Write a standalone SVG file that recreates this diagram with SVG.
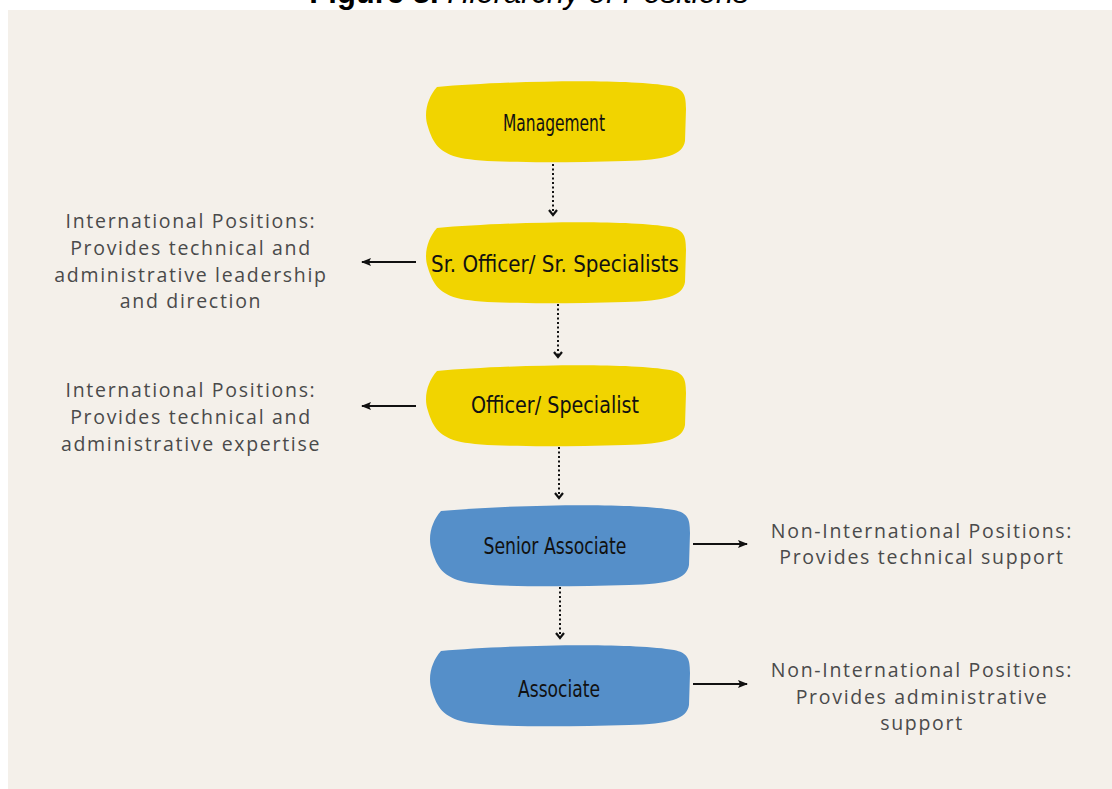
<svg xmlns="http://www.w3.org/2000/svg" width="1112" height="789" viewBox="0 0 1112 789">
<defs>
<style>
.title{font-family:"Liberation Sans",Arial,sans-serif;font-size:31px;fill:#000}
.desc{font-family:"Open Sans","Liberation Sans",sans-serif;font-size:19.5px;fill:#4a4a4a;text-anchor:middle;letter-spacing:1.7px}
.lbl{font-family:"DejaVu Sans Condensed","Liberation Sans Narrow",sans-serif;font-size:23px;fill:#111;text-anchor:middle}
.yel{fill:#F1D400}
.blu{fill:#558FC9}
.dot{stroke:#111;stroke-width:2;stroke-dasharray:2 2.5;fill:none}
.sol{stroke:#111;stroke-width:2;fill:none}
</style>
<path id="blob" d="M 12,6 C 80,0 200,-3 245,5 C 258,8 261,12 261,28 L 260,60 C 258,74 240,79 200,80 C 130,82 60,82 36,77 C 14,72 8,62 3,46 C -2,32 3,16 12,6 Z"/>
<marker id="chev" viewBox="0 0 10 10" refX="8" refY="5" markerWidth="10" markerHeight="10" orient="auto" markerUnits="userSpaceOnUse">
<path d="M3,1 L8,5 L3,9" fill="none" stroke="#111" stroke-width="2.2"/>
</marker>
<marker id="tri" viewBox="0 0 10 10" refX="9" refY="5" markerWidth="10" markerHeight="10" orient="auto" markerUnits="userSpaceOnUse">
<path d="M0,1 L10,5 L0,9 L2,5 Z" fill="#111"/>
</marker>
</defs>
<rect width="1112" height="789" fill="#ffffff"/>
<rect x="8" y="10" width="1104" height="779" fill="#F4F0EA"/>
<text class="title" x="529" y="3" text-anchor="middle"><tspan font-weight="bold">Figure 3.</tspan><tspan font-style="italic"> Hierarchy of Positions</tspan></text>

<g id="connectors">
<line class="dot" x1="553" y1="164" x2="553" y2="215" marker-end="url(#chev)"/>
<line class="dot" x1="558" y1="304" x2="558" y2="357" marker-end="url(#chev)"/>
<line class="dot" x1="559" y1="447" x2="559" y2="498" marker-end="url(#chev)"/>
<line class="dot" x1="560" y1="587" x2="560" y2="638" marker-end="url(#chev)"/>
<line class="sol" x1="416" y1="262" x2="362" y2="262" marker-end="url(#tri)"/>
<line class="sol" x1="416" y1="406" x2="362" y2="406" marker-end="url(#tri)"/>
<line class="sol" x1="693" y1="544" x2="747" y2="544" marker-end="url(#tri)"/>
<line class="sol" x1="693" y1="684" x2="747" y2="684" marker-end="url(#tri)"/>
</g>

<g id="management">
<use href="#blob" class="yel" transform="translate(425,81)"/>
<text class="lbl" x="554" y="131" textLength="102" lengthAdjust="spacingAndGlyphs">Management</text>
</g>
<g id="sr-officer">
<use href="#blob" class="yel" transform="translate(425,222)"/>
<text class="lbl" x="555" y="272" textLength="248" lengthAdjust="spacingAndGlyphs">Sr. Officer/ Sr. Specialists</text>
</g>
<g id="officer">
<use href="#blob" class="yel" transform="translate(425,365)"/>
<text class="lbl" x="555" y="413" textLength="168" lengthAdjust="spacingAndGlyphs">Officer/ Specialist</text>
</g>
<g id="senior-associate">
<use href="#blob" class="blu" transform="translate(429,505)"/>
<text class="lbl" x="555" y="554" textLength="143" lengthAdjust="spacingAndGlyphs">Senior Associate</text>
</g>
<g id="associate">
<use href="#blob" class="blu" transform="translate(429,645)"/>
<text class="lbl" x="559" y="697" textLength="82" lengthAdjust="spacingAndGlyphs">Associate</text>
</g>

<g id="desc-sr">
<text class="desc" x="191" y="228">International Positions:</text>
<text class="desc" x="191" y="255">Provides technical and</text>
<text class="desc" x="191" y="282">administrative leadership</text>
<text class="desc" x="191" y="308">and direction</text>
</g>
<g id="desc-officer">
<text class="desc" x="191" y="397">International Positions:</text>
<text class="desc" x="191" y="424">Provides technical and</text>
<text class="desc" x="191" y="451">administrative expertise</text>
</g>
<g id="desc-senior">
<text class="desc" x="922" y="538">Non-International Positions:</text>
<text class="desc" x="922" y="564">Provides technical support</text>
</g>
<g id="desc-assoc">
<text class="desc" x="922" y="677">Non-International Positions:</text>
<text class="desc" x="922" y="704">Provides administrative</text>
<text class="desc" x="922" y="730">support</text>
</g>
</svg>
